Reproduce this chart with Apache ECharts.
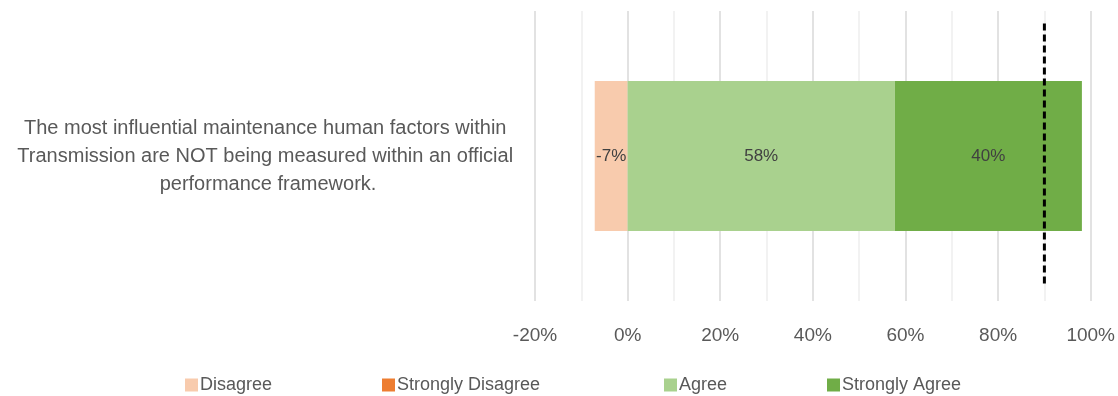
<!DOCTYPE html>
<html><head><meta charset="utf-8">
<script src="https://cdn.jsdelivr.net/npm/echarts@6/dist/echarts.min.js"></script>
<style>html,body{margin:0;padding:0;background:#fff}#c{width:1118px;height:396px}</style>
</head><body><div id="c"></div>
<script>
const categories = ['The most influential maintenance human factors within Transmission are NOT being measured within an official performance framework.'];
const disagree = [-7.1];
const stronglyDisagree = [0];
const agree = [57.7];
const stronglyAgree = [40.4];
const threshold = 90;
const thresholdSpan = [0.06, 0.96];
const xTicks = [-20, 0, 20, 40, 60, 80, 100];

const font = 'Liberation Sans';
const chart = echarts.init(document.getElementById('c'));
const lbl = {show: true, position: 'inside', color: '#404040', fontSize: 17, fontFamily: font,
  formatter: p => p.value ? Math.round(p.value) + '%' : ''};
function bar(name, data, color) {
  return {name, type: 'bar', stack: 's', data, barWidth: 150, itemStyle: {color}, label: lbl,
    emphasis: {disabled: true}};
}
function leg(name, left) {
  return {data: [name], left, top: 371, itemWidth: 13, itemHeight: 13, icon: 'rect', itemGap: 0,
    textStyle: {color: '#595959', fontSize: 18, fontFamily: font, padding: [0, 0, 0, -3]}};
}
chart.setOption({
  animation: false,
  grid: {left: 535, right: 25, top: 11, bottom: 95},
  legend: [leg('Disagree', 180), leg('Strongly Disagree', 377), leg('Agree', 659), leg('Strongly Agree', 822)],
  xAxis: {type: 'value', min: xTicks[0], max: xTicks[xTicks.length - 1], interval: 20,
    axisLine: {show: false}, axisTick: {show: false},
    splitLine: {lineStyle: {color: '#d9d9d9', width: 1.5}},
    minorTick: {show: false, splitNumber: 2},
    minorSplitLine: {show: true, lineStyle: {color: '#eeeeee', width: 1.5}},
    axisLabel: {color: '#595959', fontSize: 19, fontFamily: font, margin: 25, formatter: v => v + '%'}},
  yAxis: [{type: 'category', data: categories, axisLine: {show: false}, axisTick: {show: false},
    axisLabel: {color: '#595959', fontSize: 20, fontFamily: font, width: 530, overflow: 'break',
      align: 'center', margin: 267, lineHeight: 28}},
    {type: 'value', min: 0, max: 1, show: false}],
  series: [
    bar('Disagree', disagree, '#F8CBAD'),
    bar('Strongly Disagree', stronglyDisagree, '#ED7D31'),
    bar('Agree', agree, '#A9D18E'),
    bar('Strongly Agree', stronglyAgree, '#70AD47'),
    {type: 'line', yAxisIndex: 1, data: thresholdSpan.map(y => [threshold, y]), symbol: 'none',
      lineStyle: {color: '#000', width: 3, type: [7, 4]}, silent: true, z: 5}
  ]
});
</script></body></html>
